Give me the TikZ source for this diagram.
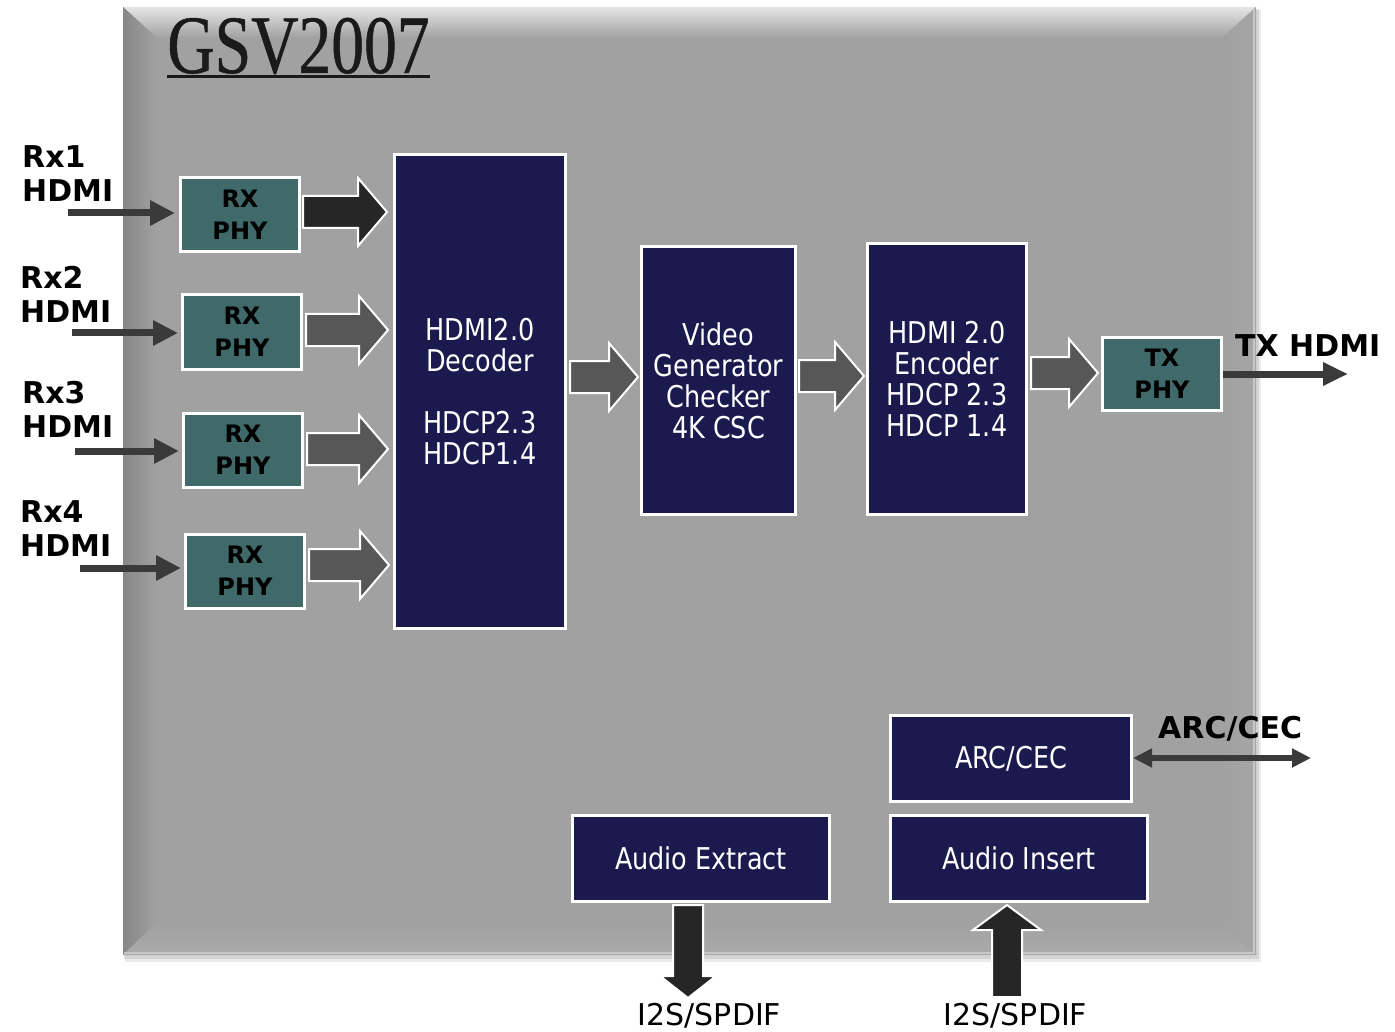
\documentclass[tikz,border=0pt]{standalone}
\usepackage{fontspec}
\setmainfont{DejaVu Sans}[FakeStretch=0.85]
\newfontfamily\bsans{DejaVu Sans}
\newfontfamily\wsans{DejaVu Sans}
\newfontfamily\titlefont{Liberation Serif}[FakeStretch=0.79,FakeBold=0.6]
\usetikzlibrary{arrows.meta,calc}
\definecolor{navy}{HTML}{1B1A4E}
\definecolor{tealbox}{HTML}{3F6A69}
\definecolor{bggray}{HTML}{A1A1A1}
\definecolor{arrowgray}{HTML}{3A3A3A}
\definecolor{titlecol}{HTML}{1A1A1A}
\definecolor{blockgray}{HTML}{575757}
\definecolor{blockdark}{HTML}{262626}
\tikzset{
  phy/.style={draw=white, line width=3pt, fill=tealbox, minimum width=119pt, minimum height=74pt,
    align=center, font=\bsans\bfseries\fontsize{24}{32}\selectfont, text=black, inner sep=0pt},
  blk/.style={draw=white, line width=3pt, fill=navy, align=center, text=white,
    font=\fontsize{30}{31}\selectfont, inner sep=0pt},
  lbl/.style={font=\bsans\bfseries\fontsize{30}{34}\selectfont, text=black, inner sep=0pt},
  inarrow/.style={draw=arrowgray, line width=7pt, -{Triangle[length=25pt,width=24pt]}},
  grayarrow/.style={draw=white, line width=2pt, fill=blockgray},
  darkarrow/.style={draw=white, line width=2pt, fill=blockdark},
  downarrow/.style={draw=white, line width=2pt, fill=blockdark},
  uparrow/.style={draw=white, line width=2pt, fill=blockdark},
}
% horizontal block arrow: style, start, tip
\newcommand\hbarrow[3]{%
  \path[#1] ($(#2)+(0,-16)$) -- ($(#3)+(-29,-16)$) -- ($(#3)+(-29,-34)$) -- (#3)
    -- ($(#3)+(-29,34)$) -- ($(#3)+(-29,16)$) -- ($(#2)+(0,16)$) -- cycle;}
% vertical block arrow: style, start, tip, half body, half head, signed head length
\newcommand\vbarrow[6]{%
  \path[#1] ($(#2)+(-#4,0)$) -- ($(#3)+(-#4,#6)$) -- ($(#3)+(-#5,#6)$) -- (#3)
    -- ($(#3)+(#5,#6)$) -- ($(#3)+(#4,#6)$) -- ($(#2)+(#4,0)$) -- cycle;}
\begin{document}
\begin{tikzpicture}[x=1pt,y=-1pt]
\useasboundingbox (0,0) rectangle (1395,1032);
% chip body with bevel
\fill[black, opacity=0.08] (125,10) rectangle (1261,962);
\fill[black, opacity=0.10] (124,9) rectangle (1259,959);
\fill[bggray] (123,7) rectangle (1256,955);
\shade[top color=white!90!black, bottom color=bggray] (123,7) -- (1256,7) -- (1222,38) -- (157,38) -- cycle;
\shade[left color=black!47, right color=bggray] (123,7) -- (157,38) -- (157,922) -- (123,955) -- cycle;
\shade[top color=bggray, bottom color=black!33] (123,955) -- (157,922) -- (1222,922) -- (1256,955) -- cycle;
\shade[left color=bggray, right color=black!35] (1256,7) -- (1222,38) -- (1222,922) -- (1256,955) -- cycle;
\draw[black!22, line width=2pt] (124,953) -- (1254,953) -- (1254,9);
% title
\node[font=\titlefont\fontsize{83}{83}\selectfont, text=titlecol, inner sep=0pt, anchor=base] (title) at (298.5,73) {GSV2007};
\draw[titlecol, line width=3pt] ($(title.base west)+(0,4)$) -- ($(title.base east)+(0,4)$);
% RX PHY blocks
\node[phy] (rx1) at (240,214.5) {RX\\PHY};
\node[phy] (rx2) at (242,332) {RX\\PHY};
\node[phy] (rx3) at (243,450) {RX\\PHY};
\node[phy] (rx4) at (245,571) {RX\\PHY};
\node[phy, minimum height=73pt] (tx) at (1162,374) {TX\\PHY};
% main blocks
\node[blk, minimum width=171pt, minimum height=474pt] (dec) at (480,391.5) {HDMI2.0\\Decoder\\[31pt]HDCP2.3\\HDCP1.4};
\node[blk, minimum width=154pt, minimum height=268pt] (vid) at (718.5,380.5) {Video\\Generator\\Checker\\4K CSC};
\node[blk, minimum width=159pt, minimum height=271pt] (enc) at (947,379) {HDMI 2.0\\Encoder\\HDCP 2.3\\HDCP 1.4};
\node[blk, minimum width=241pt, minimum height=86pt] (arc) at (1011,758.5) {ARC/CEC};
\node[blk, minimum width=257pt, minimum height=86pt] (aext) at (701,858.5) {Audio Extract};
\node[blk, minimum width=257pt, minimum height=86pt] (ains) at (1019,858.5) {Audio Insert};
% input labels
\node[lbl, anchor=west, align=left] (l1) at (22,173.5) {Rx1\\HDMI};
\node[lbl, anchor=west, align=left] (l2) at (20,294.5) {Rx2\\HDMI};
\node[lbl, anchor=west, align=left] (l3) at (22,409.5) {Rx3\\HDMI};
\node[lbl, anchor=west, align=left] (l4) at (20,529) {Rx4\\HDMI};
\node[lbl, anchor=base west] (ltx) at (1235,356) {TX HDMI};
\node[lbl, anchor=base west] (larc) at (1158,738) {ARC/CEC};
\node[font=\wsans\fontsize{30}{30}\selectfont, anchor=base, inner sep=0pt] (li1) at (709.5,1025) {I2S/SPDIF};
\node[font=\wsans\fontsize{30}{30}\selectfont, anchor=base, inner sep=0pt] (li2) at (1015.5,1025) {I2S/SPDIF};
% input arrows
\coordinate (i1) at (68,213);
\coordinate (i2) at (72,333);
\coordinate (i3) at (75,451);
\coordinate (i4) at (80,568);
\draw[inarrow, shorten >=4pt] (i1) -- (i1 -| rx1.west);
\draw[inarrow, shorten >=3pt] (i2) -- (i2 -| rx2.west);
\draw[inarrow, shorten >=3pt] (i3) -- (i3 -| rx3.west);
\draw[inarrow, shorten >=3pt] (i4) -- (i4 -| rx4.west);
% output arrows
\coordinate (txo) at (1348,374);
\draw[draw=arrowgray, line width=7pt, -{Triangle[length=25pt,width=22pt]}] (tx.east |- txo) -- (txo);
\coordinate (arco) at (1311,758);
\draw[draw=arrowgray, line width=6pt, {Triangle[length=19pt,width=18pt]}-{Triangle[length=19pt,width=18pt]}] (arc.east |- arco) -- (arco);
% block arrows
\coordinate (a1s) at ($(rx1.east)+(2,-2.5)$);
\coordinate (a1e) at ($(dec.west |- a1s)+(-6,0)$);
\hbarrow{darkarrow}{a1s}{a1e}
\coordinate (a2s) at ($(rx2.east)+(3,-2)$);
\coordinate (a2e) at ($(dec.west |- a2s)+(-5,0)$);
\hbarrow{grayarrow}{a2s}{a2e}
\coordinate (a3s) at ($(rx3.east)+(3,-1)$);
\coordinate (a3e) at ($(dec.west |- a3s)+(-5,0)$);
\hbarrow{grayarrow}{a3s}{a3e}
\coordinate (a4s) at ($(rx4.east)+(3,-6)$);
\coordinate (a4e) at ($(dec.west |- a4s)+(-4,0)$);
\hbarrow{grayarrow}{a4s}{a4e}
\coordinate (a5s) at ($(dec.east |- vid.center)+(3,-3.5)$);
\coordinate (a5e) at ($(vid.west |- a5s)+(-2,0)$);
\hbarrow{grayarrow}{a5s}{a5e}
\coordinate (a6s) at ($(vid.east)+(2,-4.5)$);
\coordinate (a6e) at ($(enc.west |- a6s)+(-2,0)$);
\hbarrow{grayarrow}{a6s}{a6e}
\coordinate (a7s) at ($(enc.east |- tx.center)+(3,-1)$);
\coordinate (a7e) at ($(tx.west |- a7s)+(-3,0)$);
\hbarrow{grayarrow}{a7s}{a7e}
% vertical arrows
\coordinate (dns) at ($(aext.south)+(-13,2)$);
\coordinate (dne) at ($(aext.south)+(-13,95)$);
\vbarrow{downarrow}{dns}{dne}{15}{28}{-22}
\coordinate (upe) at ($(ains.south)+(-12,2)$);
\coordinate (ups) at ($(ains.south)+(-12,94)$);
\vbarrow{uparrow}{ups}{upe}{15}{34}{25}
\end{tikzpicture}
\end{document}
